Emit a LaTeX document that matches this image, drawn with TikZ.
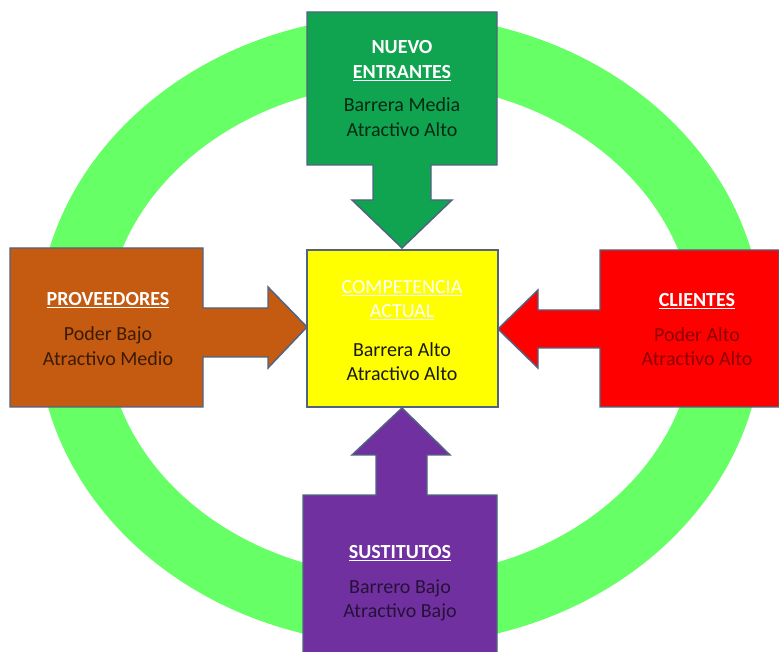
\documentclass[tikz,border=0pt]{standalone}
\usepackage{fontspec}
\setmainfont{Carlito}
\definecolor{ringgreen}{RGB}{102,255,102}
\definecolor{boxgreen}{RGB}{16,163,80}
\definecolor{boxbrown}{RGB}{197,90,17}
\definecolor{boxred}{RGB}{255,0,0}
\definecolor{boxyellow}{RGB}{255,255,0}
\definecolor{boxpurple}{RGB}{112,48,160}
\definecolor{edgeblue}{RGB}{80,100,130}
\tikzset{
  shapebox/.style={draw=edgeblue, line width=1.1pt, line join=miter},
  ttl/.style={inner sep=0pt, anchor=center, text=white, font=\fontsize{15}{18}\selectfont\bfseries},
  ttlreg/.style={inner sep=0pt, anchor=center, text=white, font=\fontsize{15}{18}\selectfont},
  bodytxt/.style={inner sep=0pt, anchor=center, font=\fontsize{15}{18}\selectfont},
}
\begin{document}
\begin{tikzpicture}[x=0.75pt,y=-0.75pt]
\useasboundingbox (0,0) rectangle (779,652);
% ring
\draw[ringgreen, line width=51.5pt] (400,330) ellipse [x radius=246.4pt, y radius=210.4pt];
% green (down arrow callout)
\filldraw[shapebox, fill=boxgreen] (307,12) -- (497,12) -- (497,165) -- (431,165) -- (431,200) -- (452,200)
  -- (402,248) -- (352,200) -- (373,200) -- (373,165) -- (307,165) -- cycle;
% yellow centre
\filldraw[shapebox, fill=boxyellow] (307,250) rectangle (498,407);
% brown (right arrow callout)
\filldraw[shapebox, fill=boxbrown] (10,248) -- (203,248) -- (203,308) -- (268,308) -- (268,287) -- (307,327)
  -- (268,368) -- (268,357) -- (203,357) -- (203,407) -- (10,407) -- cycle;
% red (left arrow callout)
\filldraw[shapebox, fill=boxred] (779,250) -- (600,250) -- (600,310) -- (538,310) -- (538,290) -- (498,329)
  -- (538,368) -- (538,348) -- (600,348) -- (600,407) -- (779,407) -- cycle;
% purple (up arrow callout)
\filldraw[shapebox, fill=boxpurple] (303,652) -- (303,495) -- (376,495) -- (376,455) -- (352,455) -- (402,408)
  -- (450,455) -- (427,455) -- (427,495) -- (497,495) -- (497,652);
% texts: nuevo entrantes
\node[ttl] (ne1) at (402,47) {NUEVO};
\node[ttl] (ne2) at (402,73) {\underline{ENTRANTES}};
\node[bodytxt, text=boxgreen!25!black] (ne3) at (402,105) {Barrera Media};
\node[bodytxt, text=boxgreen!25!black] (ne4) at (402,130) {Atractivo Alto};
% competencia actual
\node[ttlreg] (ca1) at (402,288) {\underline{COMPETENCIA}};
\node[ttlreg] (ca2) at (402,312) {\underline{ACTUAL}};
\node[bodytxt, text=black!90] (ca3) at (402,350) {Barrera Alto};
\node[bodytxt, text=black!90] (ca4) at (402,374) {Atractivo Alto};
% proveedores
\node[ttl] (pr1) at (108,300) {\underline{PROVEEDORES}};
\node[bodytxt, text=boxbrown!30!black] (pr2) at (108,335) {Poder Bajo};
\node[bodytxt, text=boxbrown!30!black] (pr3) at (108,359) {Atractivo Medio};
% clientes
\node[ttl] (cl1) at (697,301) {\underline{CLIENTES}};
\node[bodytxt, text=boxred!55!black] (cl2) at (697,335) {Poder Alto};
\node[bodytxt, text=boxred!55!black] (cl3) at (697,359) {Atractivo Alto};
% sustitutos
\node[ttl] (su1) at (400,553) {\underline{SUSTITUTOS}};
\node[bodytxt, text=boxpurple!35!black] (su2) at (400,588) {Barrero Bajo};
\node[bodytxt, text=boxpurple!35!black] (su3) at (400,612) {Atractivo Bajo};
\end{tikzpicture}
\end{document}
